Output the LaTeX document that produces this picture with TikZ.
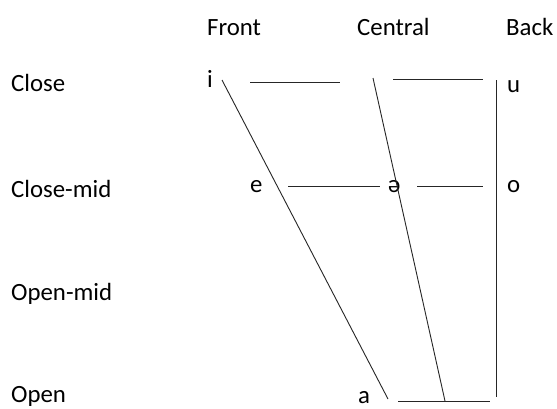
\documentclass[tikz,border=0pt]{standalone}
\usepackage{fontspec}
\setmainfont{Carlito}
\begin{document}
\begin{tikzpicture}[x=1pt,y=-1pt,
  lbl/.style={anchor=base west, inner sep=0pt, font=\fontsize{24.8}{28}\selectfont},
  ln/.style={line width=0.9pt, draw=black!85}]
\useasboundingbox[fill=white] (0,0) rectangle (557,408);
% column headers
\node[lbl] (front) at (207,35) {Front};
\node[lbl] (central) at (357,35) {Central};
\node[lbl] (back) at (506,35) {Back};
% row labels
\node[lbl] (close) at (11,91) {Close};
\node[lbl] (closemid) at (11,197) {Close-mid};
\node[lbl] (openmid) at (11,300) {Open-mid};
\node[lbl] (open) at (11,402) {Open};
% vowels
\node[lbl] (i) at (207,87) {i};
\node[lbl] (u) at (507,92) {u};
\node[lbl] (e) at (250,192) {e};
\node[lbl] (schwa) at (388,192) {ə};
\node[lbl] (o) at (507,192) {o};
\node[lbl, text depth=0pt] (a) at (358,403) {a};
% line end points
\coordinate (iTop) at (222,80);
\coordinate (aBot) at (388,399);
\coordinate (cTop) at (373,78);
\coordinate (cBot) at (445,401);
\coordinate (bTop) at (496,80);
\coordinate (bBot) at (496,397);
\coordinate (h1a) at (250,82);
\coordinate (h1b) at (340,82);
\coordinate (h2a) at (393,79);
\coordinate (h2b) at (483,79);
\coordinate (m1a) at (288,186);
\coordinate (m1b) at (380,186);
\coordinate (m2a) at (417,186);
\coordinate (m2b) at (483,186);
\coordinate (oa) at (398,401);
\coordinate (ob) at (490,401);
% lines
\draw[ln] (iTop) -- (aBot);
\draw[ln] (cTop) -- (cBot);
\draw[ln] (bTop) -- (bBot);
\draw[ln] (h1a) -- (h1b);
\draw[ln] (h2a) -- (h2b);
\draw[ln] (m1a) -- (m1b);
\draw[ln] (m2a) -- (m2b);
\draw[ln] (oa) -- (ob);
\end{tikzpicture}
\end{document}
